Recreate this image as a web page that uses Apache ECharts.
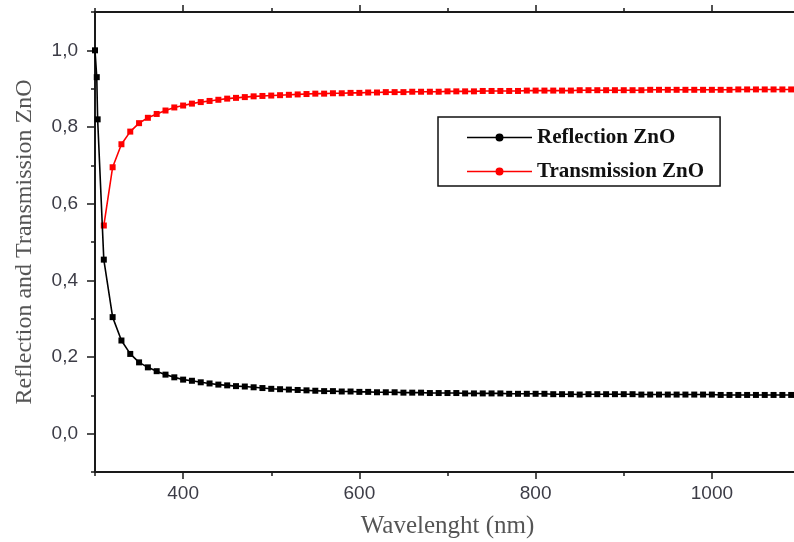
<!DOCTYPE html>
<html>
<head>
<meta charset="utf-8">
<script src="https://cdn.jsdelivr.net/npm/echarts@6/dist/echarts.min.js"></script>
<style>
  html, body { margin: 0; padding: 0; background: #ffffff; }
  #chart { width: 794px; height: 542px; }
</style>
</head>
<body>
<div id="chart"></div>
<script>
// Wavelength grid (nm) shared by both spectra
const wavelengthNm = [
  310, 320, 330, 340, 350, 360, 370, 380, 390, 400,
  410, 420, 430, 440, 450, 460, 470, 480, 490, 500,
  510, 520, 530, 540, 550, 560, 570, 580, 590, 600,
  610, 620, 630, 640, 650, 660, 670, 680, 690, 700,
  710, 720, 730, 740, 750, 760, 770, 780, 790, 800,
  810, 820, 830, 840, 850, 860, 870, 880, 890, 900,
  910, 920, 930, 940, 950, 960, 970, 980, 990, 1000,
  1010, 1020, 1030, 1040, 1050, 1060, 1070, 1080, 1090, 1100
];

// Steep absorption-edge part of the reflection curve
const reflectionEdgeNm = [300, 302, 303];
const reflectionEdge = [1.0, 0.93, 0.82];

const reflection = [
  0.454, 0.304, 0.243, 0.208, 0.186, 0.173, 0.163, 0.154, 0.147, 0.141,
  0.138, 0.134, 0.131, 0.128, 0.126, 0.124, 0.123, 0.121, 0.119, 0.117,
  0.116, 0.115, 0.114, 0.113, 0.112, 0.111, 0.111, 0.110, 0.110, 0.109,
  0.109, 0.108, 0.108, 0.108, 0.107, 0.107, 0.107, 0.106, 0.106, 0.106,
  0.106, 0.105, 0.105, 0.105, 0.105, 0.105, 0.104, 0.104, 0.104, 0.104,
  0.104, 0.103, 0.103, 0.103, 0.102, 0.103, 0.103, 0.103, 0.103, 0.103,
  0.103, 0.102, 0.102, 0.102, 0.102, 0.102, 0.102, 0.102, 0.102, 0.102,
  0.101, 0.101, 0.101, 0.101, 0.101, 0.101, 0.101, 0.101, 0.101, 0.101
];

const transmission = [
  0.543, 0.695, 0.755, 0.788, 0.810, 0.824, 0.834, 0.843, 0.851, 0.856,
  0.861, 0.865, 0.868, 0.871, 0.874, 0.876, 0.878, 0.880, 0.881, 0.882,
  0.883, 0.884, 0.885, 0.886, 0.887, 0.887, 0.888, 0.888, 0.889, 0.889,
  0.890, 0.890, 0.891, 0.891, 0.891, 0.892, 0.892, 0.892, 0.892, 0.893,
  0.893, 0.893, 0.893, 0.894, 0.894, 0.894, 0.894, 0.894, 0.895, 0.895,
  0.895, 0.895, 0.895, 0.895, 0.896, 0.896, 0.896, 0.896, 0.896, 0.896,
  0.896, 0.896, 0.897, 0.897, 0.897, 0.897, 0.897, 0.897, 0.897, 0.897,
  0.897, 0.897, 0.898, 0.898, 0.898, 0.898, 0.898, 0.898, 0.898, 0.898
];

// Labelled (major) ticks
const xMajorTicks = [400, 600, 800, 1000];
const yMajorTicks = [0, 0.2, 0.4, 0.6, 0.8, 1.0];

const xRange = [300, 1100];
const yRange = [-0.1, 1.1];

const seriesNames = ['Reflection ZnO', 'Transmission ZnO'];

const reflectionPoints = reflectionEdgeNm.map((w, i) => [w, reflectionEdge[i]])
  .concat(wavelengthNm.map((w, i) => [w, reflection[i]]));
const transmissionPoints = wavelengthNm.map((w, i) => [w, transmission[i]]);

const axisColor = '#1a1a1a';
const tickFont = { fontFamily: 'Liberation Sans, Arial, sans-serif', fontSize: 19, color: '#3c3c46' };
const serif = 'Liberation Serif, Times New Roman, serif';

// Line + dot legend glyph
const legendIcon = 'path://M0,3.2 H65 V4.8 H0 Z M32.5,0 A4,4 0 1 1 32.5,8 A4,4 0 1 1 32.5,0 Z';

function xAxisDef(pos, major, extra) {
  return Object.assign({
    type: 'value', position: pos, gridIndex: 0,
    min: xRange[0], max: xRange[1],
    splitLine: { show: false },
    axisLine: { show: major, onZero: false, lineStyle: { color: axisColor, width: 2 } },
    axisTick: major
      ? { show: true, inside: false, length: 7, customValues: xMajorTicks, lineStyle: { color: axisColor, width: 1.5 } }
      : { show: true, inside: false, length: 4, lineStyle: { color: axisColor, width: 1.5 } },
    axisLabel: { show: false }
  }, major ? {} : { interval: 100 }, extra || {});
}

function yAxisDef(pos, major, extra) {
  return Object.assign({
    type: 'value', position: pos, gridIndex: 0,
    min: yRange[0], max: yRange[1],
    splitLine: { show: false },
    axisLine: { show: major, onZero: false, lineStyle: { color: axisColor, width: 2 } },
    axisTick: major
      ? { show: true, inside: false, length: 8, customValues: yMajorTicks, lineStyle: { color: axisColor, width: 1.5 } }
      : { show: true, inside: false, length: 4, lineStyle: { color: axisColor, width: 1.5 } },
    axisLabel: { show: false }
  }, major ? {} : { interval: 0.1 }, extra || {});
}

const chart = echarts.init(document.getElementById('chart'), null, { renderer: 'canvas' });

chart.setOption({
  animation: false,
  backgroundColor: '#ffffff',
  // plot frame runs slightly past the right edge of the canvas
  grid: { left: 95, top: 12, right: -6, bottom: 70, containLabel: false, outerBoundsMode: 'none' },
  legend: {
    orient: 'vertical',
    left: 438, top: 117,
    padding: [10, 16, 4, 29],
    itemGap: 13,
    itemWidth: 65, itemHeight: 8,
    icon: legendIcon,
    borderColor: '#111111', borderWidth: 1.5,
    backgroundColor: '#ffffff',
    textStyle: { fontFamily: serif, fontWeight: 'bold', fontSize: 21, color: '#111111' },
    data: seriesNames
  },
  xAxis: [
    xAxisDef('bottom', true, {
      name: 'Wavelenght (nm)', nameLocation: 'middle', nameGap: 42,
      nameTextStyle: { fontFamily: serif, fontSize: 25, color: '#555555' },
      axisLabel: Object.assign({ show: true, margin: 12, customValues: xMajorTicks, formatter: v => String(v) }, tickFont)
    }),
    xAxisDef('bottom', false),
    xAxisDef('top', true),
    xAxisDef('top', false)
  ],
  yAxis: [
    yAxisDef('left', true, {
      name: 'Reflection and Transmission ZnO', nameLocation: 'middle', nameGap: 58,
      nameTextStyle: { fontFamily: serif, fontSize: 24, color: '#555555' },
      axisLabel: Object.assign({ show: true, margin: 17, customValues: yMajorTicks, formatter: v => v.toFixed(1).replace('.', ',') }, tickFont)
    }),
    yAxisDef('left', false),
    yAxisDef('right', true)
  ],
  series: [
    {
      name: seriesNames[0], type: 'line',
      xAxisIndex: 0, yAxisIndex: 0,
      data: reflectionPoints,
      symbol: 'rect', symbolSize: 6, showAllSymbol: true,
      itemStyle: { color: '#000000' },
      lineStyle: { color: '#000000', width: 1.6 },
      z: 3
    },
    {
      name: seriesNames[1], type: 'line',
      xAxisIndex: 0, yAxisIndex: 0,
      data: transmissionPoints,
      symbol: 'rect', symbolSize: 6, showAllSymbol: true,
      itemStyle: { color: '#ff0000' },
      lineStyle: { color: '#ff0000', width: 1.6 },
      z: 2
    }
  ]
});
</script>
</body>
</html>
